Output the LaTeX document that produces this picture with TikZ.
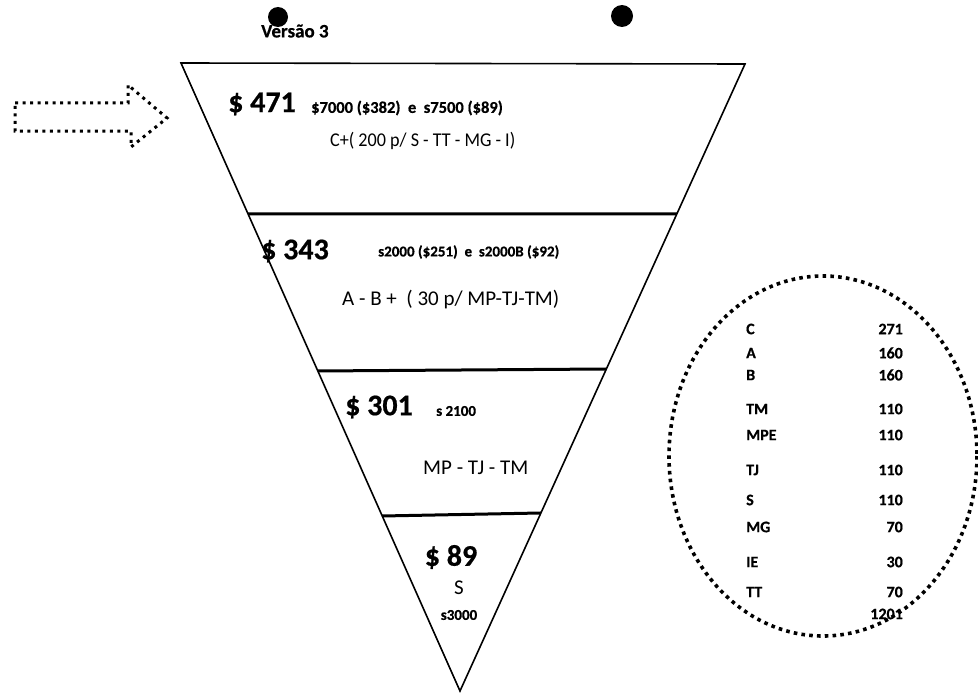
\documentclass[tikz,border=0pt]{standalone}
\usepackage{fontspec}
\setmainfont[BoldFeatures={FakeBold=0.6}]{Carlito}
\usetikzlibrary{calc}
\tikzset{
  funnel/.style={line width=1.6pt, line join=miter},
  divider/.style={line width=3pt},
  dotline/.style={line width=3.6pt, dash pattern=on 3.6pt off 4.2pt},
  arrowdot/.style={line width=3pt, dash pattern=on 3pt off 4.5pt},
  big/.style={font=\fontsize{30}{32}\selectfont\bfseries, inner sep=0pt},
  small/.style={font=\fontsize{15}{16}\selectfont\bfseries, inner sep=0pt},
  reg/.style={font=\fontsize{21}{23}\selectfont, inner sep=0pt},
  tab/.style={font=\fontsize{16}{18}\selectfont\bfseries, inner sep=0pt},
}
\begin{document}
\begin{tikzpicture}[x=1pt,y=-1pt]
\useasboundingbox (0,0) rectangle (978,693);
% funnel
\coordinate (TL) at (181,63);
\coordinate (TR) at (745,64);
\coordinate (A) at (460,691);
\draw[funnel] (TL) -- (TR) -- (A) -- cycle;
\coordinate (L1) at ($(TL)!{151/628}!(A)$);
\coordinate (R1) at ($(TR)!{150/627}!(A)$);
\coordinate (L2) at ($(TL)!{308/628}!(A)$);
\coordinate (R2) at ($(TR)!{305/627}!(A)$);
\coordinate (L3) at ($(TL)!{453/628}!(A)$);
\coordinate (R3) at ($(TR)!{449/627}!(A)$);
\draw[divider] (L1) -- (R1);
\draw[divider] (L2) -- (R2);
\draw[divider] (L3) -- (R3);
% dots
\fill (278,17) circle (10);
\fill (622,16) circle (11);
\node[font=\fontsize{19}{20}\selectfont\bfseries, inner sep=0pt, anchor=west] (ver) at (261,31) {Versão 3};
% arrow
\draw[arrowdot] (15,103) -- (128,103) -- (128,85) -- (167,118) -- (131,147) -- (131,131) -- (15,131) -- cycle;
% level 1
\node[big, anchor=west] (p471) at (228,104) {\$ 471};
\node[small, font=\fontsize{16.5}{18}\selectfont\bfseries, anchor=west] (d471) at (311,108) {\$7000 (\$382) \ e \ s7500 (\$89)};
\node[reg, font=\fontsize{19.5}{21}\selectfont, anchor=west] (c471) at (330,141) {\scalebox{0.93}[1]{C+( 200 p/ S - TT - MG - I)}};
% level 2
\node[big, anchor=west] (p343) at (261,251) {\$ 343};
\node[small, anchor=west] (d343) at (378,252) {s2000 (\$251) \ e \ s2000B (\$92)};
\node[reg, anchor=west] (c343) at (342,300) {A - B + \ ( 30 p/ MP-TJ-TM)};
% level 3
\node[big, anchor=west] (p301) at (345,407) {\$ 301};
\node[small, anchor=west] (d301) at (436,411) {s 2100};
\node[reg, anchor=west] (c301) at (423,468) {MP - TJ - TM};
% level 4
\node[big] (p89) at (451,557) {\$ 89};
\node[reg] (s89) at (459,588) {S};
\node[small] (s3000) at (459,615) {s3000};
% ellipse
\draw[dotline] (823,456) ellipse [x radius=154, y radius=180];
\foreach \n/\lab/\val/\yy in {a/C/271/329, b/A/160/353, c/B/160/375, d/TM/110/409, e/MPE/110/435, f/TJ/110/470, g/S/110/500, h/MG/70/527, i/IE/30/562, j/TT/70/592}{
  \node[tab, anchor=west] (lab\n) at (746,\yy) {\lab};
  \node[tab, anchor=east] (val\n) at (903,\yy) {\val};
}
\node[tab, anchor=east] (total) at (903,614) {1201};
\end{tikzpicture}
\end{document}
